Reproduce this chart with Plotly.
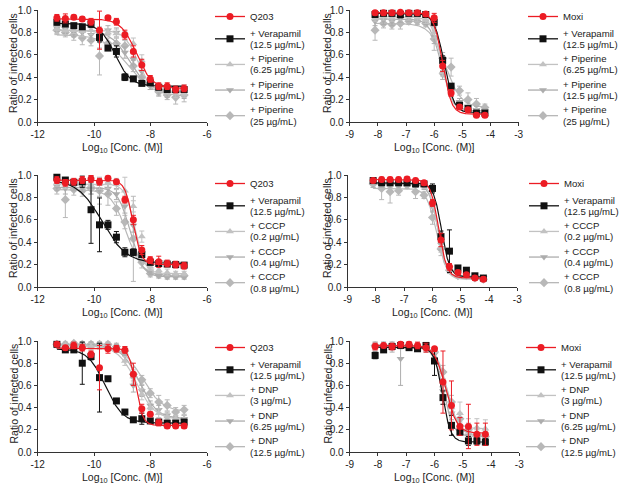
import numpy as np
import plotly.graph_objects as go

# ---------------- data ----------------
X_LEFT = [-11.32, -11.02, -10.72, -10.42, -10.11, -9.81, -9.51, -9.21,
          -8.91, -8.61, -8.31, -8.01, -7.71, -7.41, -7.11, -6.81]
X_RIGHT = [-8.10, -7.80, -7.50, -7.20, -6.90, -6.60, -6.30, -6.00,
           -5.70, -5.40, -5.10, -4.80, -4.50, -4.20]

# Panel A: Q203 + Piperine
A_labels = [["Q203"], ["+ Verapamil", "(12.5 µg/mL)"], ["+ Piperine", "(6.25 µg/mL)"],
            ["+ Piperine", "(12.5 µg/mL)"], ["+ Piperine", "(25 µg/mL)"]]
A_q203 = [0.93, 0.925, 0.935, 0.92, 0.895, 0.82, 0.93, 0.895, 0.78, 0.63, 0.51, 0.385, 0.32, 0.32, 0.29, 0.30]
A_q203_err = [0.03, 0.04, 0.02, 0.02, 0.03, 0.17, 0.02, 0.03, 0.04, 0.05, 0.05, 0.03, 0.03, 0.03, 0.03, 0.03]
A_ver = [0.89, 0.875, 0.86, 0.85, 0.875, 0.755, 0.66, 0.63, 0.40, 0.385, 0.345, 0.35, 0.31, 0.29, 0.29, 0.29]
A_ver_err = [0.02, 0.02, 0.02, 0.02, 0.03, 0.04, 0.02, 0.05, 0.03, 0.02, 0.02, 0.02, 0.02, 0.02, 0.02, 0.02]
A_p1 = [0.83, 0.82, 0.82, 0.81, 0.82, 0.80, 0.80, 0.79, 0.77, 0.70, 0.55, 0.36, 0.30, 0.28, 0.26, 0.25]
A_p1_err = [0.04, 0.04, 0.03, 0.05, 0.04, 0.05, 0.03, 0.04, 0.04, 0.05, 0.05, 0.04, 0.03, 0.03, 0.04, 0.03]
A_p2 = [0.84, 0.83, 0.80, 0.80, 0.78, 0.72, 0.82, 0.80, 0.62, 0.56, 0.45, 0.33, 0.28, 0.26, 0.27, 0.27]
A_p2_err = [0.03, 0.04, 0.04, 0.05, 0.06, 0.06, 0.04, 0.04, 0.05, 0.05, 0.05, 0.04, 0.04, 0.04, 0.05, 0.06]
A_p3 = [0.82, 0.80, 0.78, 0.75, 0.73, 0.59, 0.70, 0.70, 0.68, 0.50, 0.40, 0.33, 0.27, 0.24, 0.22, 0.24]
A_p3_err = [0.04, 0.04, 0.05, 0.06, 0.05, 0.17, 0.05, 0.05, 0.05, 0.05, 0.05, 0.04, 0.04, 0.04, 0.06, 0.06]
A_fit = [(0.92, 0.30, -8.50, 1.6), (0.88, 0.32, -9.25, 1.6), (0.82, 0.26, -8.45, 1.8),
         (0.82, 0.27, -8.75, 1.3), (0.78, 0.23, -8.80, 1.0)]

# Panel B: Moxi + Piperine
B_labels = [["Moxi"], ["+ Verapamil", "(12.5 µg/mL)"], ["+ Piperine", "(6.25 µg/mL)"],
            ["+ Piperine", "(12.5 µg/mL)"], ["+ Piperine", "(25 µg/mL)"]]
B_moxi = [0.976, 0.976, 0.976, 0.98, 0.976, 0.976, 0.965, 0.93, 0.50, 0.26, 0.135, 0.11, 0.06, 0.06]
B_moxi_err = [0.02, 0.02, 0.02, 0.02, 0.02, 0.02, 0.02, 0.04, 0.05, 0.03, 0.02, 0.02, 0.02, 0.02]
B_ver = [0.96, 0.97, 0.97, 0.96, 0.97, 0.97, 0.96, 0.89, 0.55, 0.32, 0.15, 0.12, 0.08, 0.08]
B_ver_err = [0.02, 0.02, 0.02, 0.03, 0.02, 0.02, 0.02, 0.03, 0.04, 0.02, 0.02, 0.02, 0.02, 0.02]
B_p1 = [0.93, 0.94, 0.93, 0.94, 0.94, 0.93, 0.91, 0.80, 0.45, 0.30, 0.15, 0.12, 0.10, 0.09]
B_p1_err = [0.03, 0.03, 0.03, 0.03, 0.03, 0.03, 0.03, 0.05, 0.04, 0.03, 0.03, 0.03, 0.02, 0.02]
B_p2 = [0.90, 0.91, 0.90, 0.92, 0.93, 0.93, 0.90, 0.76, 0.42, 0.27, 0.18, 0.14, 0.11, 0.10]
B_p2_err = [0.04, 0.04, 0.04, 0.03, 0.03, 0.03, 0.03, 0.06, 0.04, 0.04, 0.03, 0.03, 0.03, 0.02]
B_p3 = [0.82, 0.88, 0.87, 0.88, 0.90, 0.90, 0.88, 0.74, 0.57, 0.49, 0.28, 0.20, 0.16, 0.13]
B_p3_err = [0.09, 0.04, 0.04, 0.05, 0.03, 0.03, 0.03, 0.10, 0.05, 0.08, 0.04, 0.06, 0.05, 0.03]
B_fit = [(0.977, 0.07, -5.70, 2.8), (0.97, 0.08, -5.65, 2.5), (0.94, 0.09, -5.72, 2.4),
         (0.92, 0.10, -5.75, 2.2), (0.88, 0.13, -5.60, 1.6)]

# Panel C: Q203 + CCCP
C_labels = [["Q203"], ["+ Verapamil", "(12.5 µg/mL)"], ["+ CCCP", "(0.2 µg/mL)"],
            ["+ CCCP", "(0.4 µg/mL)"], ["+ CCCP", "(0.8 µg/mL)"]]
C_q203 = [0.955, 0.93, 0.94, 0.955, 0.965, 0.94, 0.97, 0.94, 0.78, 0.60, 0.33, 0.24, 0.225, 0.21, 0.20, 0.19]
C_q203_err = [0.03, 0.03, 0.03, 0.03, 0.03, 0.03, 0.02, 0.02, 0.03, 0.04, 0.04, 0.03, 0.05, 0.03, 0.03, 0.03]
C_ver = [0.98, 0.955, 0.935, 0.94, 0.69, 0.555, 0.555, 0.445, 0.31, 0.31, 0.29, 0.22, 0.21, 0.205, 0.20, 0.195]
C_ver_err = [0.02, 0.02, 0.02, 0.05, 0.30, 0.24, 0.04, 0.05, 0.04, 0.03, 0.02, 0.02, 0.02, 0.02, 0.02, 0.02]
C_c1 = [0.93, 0.92, 0.92, 0.92, 0.91, 0.92, 0.93, 0.92, 0.86, 0.72, 0.45, 0.18, 0.15, 0.13, 0.12, 0.12]
C_c1_err = [0.03, 0.04, 0.03, 0.03, 0.04, 0.05, 0.05, 0.05, 0.12, 0.05, 0.05, 0.03, 0.03, 0.03, 0.02, 0.02]
C_c2 = [0.90, 0.88, 0.90, 0.89, 0.88, 0.87, 0.88, 0.83, 0.72, 0.55, 0.30, 0.14, 0.10, 0.09, 0.09, 0.09]
C_c2_err = [0.04, 0.05, 0.04, 0.04, 0.05, 0.06, 0.05, 0.05, 0.06, 0.06, 0.05, 0.03, 0.02, 0.02, 0.02, 0.02]
C_c3 = [0.88, 0.78, 0.87, 0.86, 0.88, 0.86, 0.83, 0.70, 0.58, 0.43, 0.22, 0.12, 0.11, 0.10, 0.10, 0.10]
C_c3_err = [0.05, 0.16, 0.05, 0.05, 0.05, 0.12, 0.10, 0.06, 0.06, 0.38, 0.05, 0.03, 0.02, 0.02, 0.02, 0.02]
C_fit = [(0.955, 0.20, -8.62, 3.0), (0.96, 0.21, -9.72, 1.0), (0.92, 0.12, -8.55, 2.5),
         (0.89, 0.09, -8.72, 2.0), (0.87, 0.10, -8.85, 1.6)]

# Panel D: Moxi + CCCP
D_labels = [["Moxi"], ["+ Verapamil", "(12.5 µg/mL)"], ["+ CCCP", "(0.2 µg/mL)"],
            ["+ CCCP", "(0.4 µg/mL)"], ["+ CCCP", "(0.8 µg/mL)"]]
D_moxi = [0.95, 0.96, 0.96, 0.96, 0.965, 0.95, 0.93, 0.75, 0.42, 0.18, 0.13, 0.11, 0.08, 0.07]
D_moxi_err = [0.02, 0.02, 0.02, 0.02, 0.02, 0.02, 0.02, 0.03, 0.06, 0.03, 0.02, 0.02, 0.02, 0.02]
D_ver = [0.95, 0.93, 0.93, 0.93, 0.93, 0.92, 0.92, 0.88, 0.45, 0.32, 0.17, 0.15, 0.10, 0.08]
D_ver_err = [0.02, 0.02, 0.02, 0.02, 0.02, 0.02, 0.02, 0.04, 0.05, 0.19, 0.02, 0.02, 0.02, 0.02]
D_c1 = [0.93, 0.93, 0.93, 0.93, 0.94, 0.93, 0.91, 0.74, 0.36, 0.16, 0.11, 0.10, 0.08, 0.07]
D_c1_err = [0.02, 0.03, 0.03, 0.03, 0.02, 0.03, 0.03, 0.04, 0.05, 0.03, 0.02, 0.02, 0.02, 0.02]
D_c2 = [0.92, 0.92, 0.92, 0.92, 0.93, 0.92, 0.90, 0.72, 0.38, 0.17, 0.12, 0.11, 0.09, 0.08]
D_c2_err = [0.03, 0.03, 0.03, 0.03, 0.02, 0.03, 0.03, 0.05, 0.05, 0.03, 0.02, 0.02, 0.02, 0.02]
D_c3 = [0.92, 0.88, 0.85, 0.86, 0.91, 0.85, 0.82, 0.62, 0.34, 0.15, 0.10, 0.10, 0.08, 0.07]
D_c3_err = [0.03, 0.10, 0.10, 0.04, 0.03, 0.06, 0.03, 0.06, 0.06, 0.03, 0.02, 0.02, 0.02, 0.02]
D_fit = [(0.96, 0.08, -5.78, 3.0), (0.93, 0.09, -5.68, 3.0), (0.93, 0.07, -5.80, 3.0),
         (0.92, 0.08, -5.80, 2.8), (0.88, 0.07, -5.85, 2.5)]

# Panel E: Q203 + DNP
E_labels = [["Q203"], ["+ Verapamil", "(12.5 µg/mL)"], ["+ DNP", "(3 µg/mL)"],
            ["+ DNP", "(6.25 µg/mL)"], ["+ DNP", "(12.5 µg/mL)"]]
E_q203 = [0.97, 0.94, 0.96, 0.94, 0.88, 0.76, 0.93, 0.93, 0.92, 0.70, 0.39, 0.34, 0.265, 0.235, 0.235, 0.235]
E_q203_err = [0.02, 0.02, 0.03, 0.03, 0.03, 0.20, 0.04, 0.03, 0.03, 0.10, 0.04, 0.02, 0.03, 0.02, 0.02, 0.02]
E_ver = [0.97, 0.92, 0.92, 0.80, 0.86, 0.67, 0.66, 0.46, 0.36, 0.29, 0.30, 0.28, 0.27, 0.26, 0.26, 0.27]
E_ver_err = [0.02, 0.02, 0.02, 0.19, 0.03, 0.31, 0.02, 0.02, 0.02, 0.02, 0.05, 0.02, 0.02, 0.02, 0.02, 0.02]
E_d1 = [0.97, 0.96, 0.96, 0.95, 0.95, 0.96, 0.95, 0.93, 0.82, 0.68, 0.52, 0.40, 0.35, 0.32, 0.30, 0.30]
E_d1_err = [0.02, 0.02, 0.02, 0.03, 0.03, 0.03, 0.03, 0.03, 0.04, 0.06, 0.05, 0.04, 0.04, 0.03, 0.03, 0.03]
E_d2 = [0.96, 0.96, 0.96, 0.96, 0.96, 0.96, 0.95, 0.94, 0.87, 0.60, 0.55, 0.42, 0.38, 0.33, 0.30, 0.30]
E_d2_err = [0.02, 0.02, 0.02, 0.03, 0.03, 0.03, 0.03, 0.03, 0.05, 0.06, 0.05, 0.04, 0.04, 0.03, 0.03, 0.03]
E_d3 = [0.97, 0.97, 0.98, 0.97, 0.97, 0.97, 0.97, 0.95, 0.91, 0.70, 0.65, 0.53, 0.45, 0.42, 0.36, 0.38]
E_d3_err = [0.02, 0.03, 0.02, 0.02, 0.03, 0.03, 0.03, 0.03, 0.04, 0.06, 0.04, 0.04, 0.06, 0.05, 0.04, 0.04]
E_fit = [(0.935, 0.24, -8.52, 3.5), (0.93, 0.26, -9.60, 1.4), (0.96, 0.29, -8.50, 1.3),
         (0.96, 0.30, -8.40, 1.4), (0.97, 0.36, -8.30, 1.2)]

# Panel F: Moxi + DNP
F_labels = [["Moxi"], ["+ Verapamil", "(12.5 µg/mL)"], ["+ DNP", "(3 µg/mL)"],
            ["+ DNP", "(6.25 µg/mL)"], ["+ DNP", "(12.5 µg/mL)"]]
F_moxi = [0.95, 0.96, 0.95, 0.97, 0.97, 0.96, 0.94, 0.93, 0.63, 0.42, 0.23, 0.23, 0.16, 0.16]
F_moxi_err = [0.03, 0.02, 0.03, 0.03, 0.03, 0.03, 0.04, 0.02, 0.28, 0.22, 0.08, 0.20, 0.10, 0.10]
F_ver = [0.87, 0.92, 0.95, 0.96, 0.94, 0.93, 0.96, 0.82, 0.49, 0.24, 0.18, 0.10, 0.10, 0.09]
F_ver_err = [0.03, 0.02, 0.02, 0.02, 0.02, 0.02, 0.02, 0.13, 0.06, 0.09, 0.03, 0.04, 0.03, 0.03]
F_d1 = [0.96, 0.96, 0.97, 0.97, 0.96, 0.95, 0.94, 0.90, 0.60, 0.40, 0.35, 0.22, 0.22, 0.21]
F_d1_err = [0.04, 0.04, 0.03, 0.03, 0.03, 0.03, 0.03, 0.04, 0.06, 0.06, 0.10, 0.08, 0.08, 0.08]
F_d2 = [0.95, 0.95, 0.94, 0.84, 0.95, 0.94, 0.93, 0.88, 0.55, 0.35, 0.22, 0.15, 0.16, 0.13]
F_d2_err = [0.03, 0.03, 0.04, 0.24, 0.03, 0.03, 0.03, 0.04, 0.06, 0.06, 0.05, 0.05, 0.05, 0.05]
F_d3 = [0.96, 0.96, 0.96, 0.96, 0.96, 0.95, 0.94, 0.90, 0.72, 0.45, 0.30, 0.20, 0.15, 0.14]
F_d3_err = [0.03, 0.03, 0.03, 0.03, 0.03, 0.03, 0.03, 0.04, 0.06, 0.06, 0.05, 0.06, 0.05, 0.05]
F_fit = [(0.96, 0.17, -5.60, 2.2), (0.945, 0.09, -5.72, 3.0), (0.96, 0.21, -5.62, 2.2),
         (0.945, 0.14, -5.68, 2.5), (0.96, 0.15, -5.55, 2.2)]

X_TICKS_LEFT = [-12, -10, -8, -6]
X_TICKS_RIGHT = [-9, -8, -7, -6, -5, -4, -3]
Y_TICKS = [0.0, 0.2, 0.4, 0.6, 0.8, 1.0]
X_TITLE = "Log<sub>10</sub> [Conc. (M)]"
Y_TITLE = "Ratio of infected cells"

PANELS = [
    dict(x=X_LEFT, labels=A_labels, ys=[A_q203, A_ver, A_p1, A_p2, A_p3],
         errs=[A_q203_err, A_ver_err, A_p1_err, A_p2_err, A_p3_err], fits=A_fit),
    dict(x=X_RIGHT, labels=B_labels, ys=[B_moxi, B_ver, B_p1, B_p2, B_p3],
         errs=[B_moxi_err, B_ver_err, B_p1_err, B_p2_err, B_p3_err], fits=B_fit),
    dict(x=X_LEFT, labels=C_labels, ys=[C_q203, C_ver, C_c1, C_c2, C_c3],
         errs=[C_q203_err, C_ver_err, C_c1_err, C_c2_err, C_c3_err], fits=C_fit),
    dict(x=X_RIGHT, labels=D_labels, ys=[D_moxi, D_ver, D_c1, D_c2, D_c3],
         errs=[D_moxi_err, D_ver_err, D_c1_err, D_c2_err, D_c3_err], fits=D_fit),
    dict(x=X_LEFT, labels=E_labels, ys=[E_q203, E_ver, E_d1, E_d2, E_d3],
         errs=[E_q203_err, E_ver_err, E_d1_err, E_d2_err, E_d3_err], fits=E_fit),
    dict(x=X_RIGHT, labels=F_labels, ys=[F_moxi, F_ver, F_d1, F_d2, F_d3],
         errs=[F_moxi_err, F_ver_err, F_d1_err, F_d2_err, F_d3_err], fits=F_fit),
]

# ---------------- styles ----------------
COLORS = ["#ec1c24", "#111111", "#c2c2c2", "#adadad", "#b8b8b8"]
SYMBOLS = ["circle", "square", "triangle-up", "triangle-down", "diamond"]
SIZES = [7, 7, 7, 7, 7]
DRAW_ORDER = [4, 3, 2, 1, 0]

W, H = 628, 489
def px(v): return v / W
def py(v): return 1 - v / H

X_PIX = [(37.7, 207.0), (349.7, 518.7), (37.7, 207.0), (347.7, 517.3), (37.7, 207.0), (349.7, 519.3)]
Y_PIX = [(122, 10), (122, 10), (287, 175), (287, 175), (452, 341), (452, 341)]
LEG_PIX = [(210, 2), (523, 2), (210, 169), (524, 169), (210, 333), (521, 333)]
YTITLE_X = [13, 327, 13, 327, 13, 327]

FONT = "Arial, Liberation Sans, Helvetica, sans-serif"
LEG_BASE_SIZE = 8.7
LEG_TEXT_SIZE = 9.6


def hill(x, top, bottom, logec, slope):
    return bottom + (top - bottom) / (1 + 10 ** ((x - logec) * slope))


def leg_text(lines):
    return "<br>".join(f'<span style="font-size:{LEG_TEXT_SIZE}px">{t}</span>' for t in lines)


fig = go.Figure()
layout = dict(width=W, height=H, margin=dict(l=0, r=0, t=0, b=0),
              paper_bgcolor="white", plot_bgcolor="white",
              font=dict(family=FONT, size=10, color="#222"))
annotations = []

for p, panel in enumerate(PANELS):
    n = p + 1
    xa = "x" if n == 1 else f"x{n}"
    ya = "y" if n == 1 else f"y{n}"
    leg = "legend" if n == 1 else f"legend{n}"
    xs = panel["x"]
    xfine = np.linspace(min(xs), max(xs), 300)

    for i in range(5):
        fig.add_trace(go.Scatter(
            x=[None], y=[None], mode="lines+markers", name=leg_text(panel["labels"][i]),
            line=dict(color=COLORS[i], width=1.3),
            marker=dict(symbol=SYMBOLS[i], size=SIZES[i], color=COLORS[i]),
            xaxis=xa, yaxis=ya, legend=leg, showlegend=True))

    for i in DRAW_ORDER:
        top, bot, lec, sl = panel["fits"][i]
        fig.add_trace(go.Scatter(
            x=xfine, y=hill(xfine, top, bot, lec, sl), mode="lines",
            line=dict(color=COLORS[i], width=1.2), xaxis=xa, yaxis=ya,
            showlegend=False, hoverinfo="skip", cliponaxis=False))
        fig.add_trace(go.Scatter(
            x=xs, y=panel["ys"][i], mode="markers",
            marker=dict(symbol=SYMBOLS[i], size=SIZES[i], color=COLORS[i]),
            error_y=dict(type="data", array=panel["errs"][i], color=COLORS[i],
                         thickness=1, width=2.5),
            xaxis=xa, yaxis=ya, showlegend=False, cliponaxis=False))

    left = (p % 2 == 0)
    xkey = "xaxis" if n == 1 else f"xaxis{n}"
    ykey = "yaxis" if n == 1 else f"yaxis{n}"
    x0, x1 = X_PIX[p]
    yb, yt = Y_PIX[p]
    ticks = X_TICKS_LEFT if left else X_TICKS_RIGHT
    layout[xkey] = dict(
        domain=[px(x0), px(x1)], anchor=ya,
        range=[-12, -6] if left else [-9, -3],
        tickmode="array", tickvals=ticks, ticktext=[str(t) for t in ticks],
        showgrid=False, zeroline=False, showline=True, linecolor="#333", linewidth=1,
        ticks="outside", ticklen=3, tickcolor="#333", tickfont=dict(size=10, color="#222"),
        automargin=False, fixedrange=True)
    layout[ykey] = dict(
        domain=[py(yb), py(yt)], anchor=xa, range=[0, 1.0],
        tickmode="array", tickvals=Y_TICKS, ticktext=[f"{t:.1f}" for t in Y_TICKS],
        showgrid=False, zeroline=False, showline=True, linecolor="#333", linewidth=1,
        ticks="outside", ticklen=3, tickcolor="#333", tickfont=dict(size=10, color="#222"),
        automargin=False, fixedrange=True)
    annotations.append(dict(text=X_TITLE, xref="paper", yref="paper",
                            x=px((x0 + x1) / 2), y=py(yb + 17), xanchor="center",
                            yanchor="top", showarrow=False,
                            font=dict(size=10.5, color="#222", family=FONT)))
    annotations.append(dict(text=Y_TITLE, xref="paper", yref="paper",
                            x=px(YTITLE_X[p]), y=py((yb + yt) / 2 - 3), xanchor="center",
                            yanchor="middle", showarrow=False, textangle=-90,
                            font=dict(size=10.5, color="#222", family=FONT)))
    lx, ly = LEG_PIX[p]
    layout[leg] = dict(x=px(lx), y=py(ly), xanchor="left", yanchor="top",
                       bgcolor="rgba(0,0,0,0)", borderwidth=0,
                       font=dict(size=LEG_BASE_SIZE, family=FONT, color="#222"),
                       itemwidth=30, tracegroupgap=0, valign="middle")

layout["annotations"] = annotations
fig.update_layout(**layout)
fig.write_html("out.html", config={"displayModeBar": False},
               post_script="document.body.style.margin='0';document.body.style.padding='0';")
